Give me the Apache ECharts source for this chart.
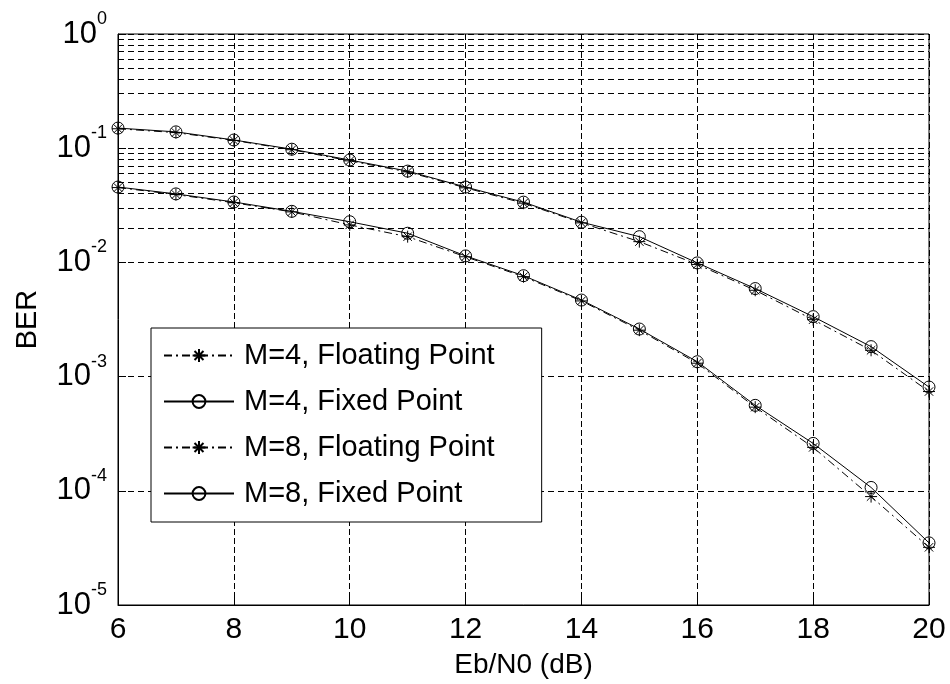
<!DOCTYPE html>
<html>
<head>
<meta charset="utf-8">
<title>BER vs Eb/N0</title>
<script src="https://cdn.jsdelivr.net/npm/echarts@6/dist/echarts.min.js"></script>
<style>
  html, body { margin: 0; padding: 0; background: #fff; }
  #main { width: 950px; height: 684px; }
</style>
</head>
<body>
<div id="main"></div>
<script>
// Eb/N0 (dB)
var ebn0 = [6, 7, 8, 9, 10, 11, 12, 13, 14, 15, 16, 17, 18, 19, 20];
// 下面的曲线
var m4Float = [0.0452, 0.0393, 0.0333, 0.0277, 0.0213, 0.0168, 0.0112, 0.0075, 0.0046, 0.00255, 0.00131, 0.00054, 0.00024, 0.000089, 0.000032];
var m4Fixed = [0.0457, 0.0398, 0.0338, 0.0280, 0.0227, 0.0180, 0.0114, 0.00765, 0.00468, 0.00261, 0.00135, 0.00056, 0.00026, 0.000107, 0.000035];
// 上面的曲线
var m8Float = [0.148, 0.137, 0.117, 0.097, 0.0775, 0.062, 0.045, 0.033, 0.0222, 0.0152, 0.0096, 0.0057, 0.00315, 0.0017, 0.00074];
var m8Fixed = [0.150, 0.139, 0.118, 0.098, 0.0788, 0.063, 0.0457, 0.0337, 0.0225, 0.0168, 0.0099, 0.0059, 0.00335, 0.00183, 0.00081];
// 对数网格的次刻度
var decades = [1e-5, 1e-4, 1e-3, 1e-2, 1e-1];
var minorMult = [2, 3, 4, 5, 6, 7, 8, 9];

var legendNames = ['M=4, Floating Point', 'M=4, Fixed Point', 'M=8, Floating Point', 'M=8, Fixed Point'];
var font = 'Liberation Sans, Arial, sans-serif';
var star = 'path://M0,-10L0,10M-10,0L10,0M-7,-7L7,7M-7,7L7,-7';

function pairs(ys) {
    return ebn0.map(function (x, i) { return [x, ys[i]]; });
}

var minorLines = [];
decades.forEach(function (d) {
    minorMult.forEach(function (m) {
        minorLines.push({ yAxis: m * d });
    });
});

function curve(name, ys, isFixed) {
    return {
        name: name,
        type: 'line',
        z: 3,
        data: pairs(ys),
        symbol: isFixed ? 'circle' : star,
        symbolSize: 12,
        showAllSymbol: true,
        lineStyle: {
            color: '#000',
            width: 1,
            type: isFixed ? 'solid' : [8, 4, 2, 4]
        },
        itemStyle: {
            color: 'transparent',
            borderColor: '#000',
            borderWidth: 1
        }
    };
}

var chart = echarts.init(document.getElementById('main'));
var option = {
    animation: false,
    backgroundColor: '#fff',
    grid: {
        left: 118, right: 21, top: 34, bottom: 79,
        show: true,
        borderColor: '#000',
        borderWidth: 1
    },
    legend: {
        data: legendNames,
        orient: 'vertical',
        left: 151,
        top: 328,
        itemWidth: 70,
        itemHeight: 16,
        itemGap: 17,
        padding: [13, 47, 14, 12],
        backgroundColor: '#fff',
        borderColor: '#000',
        borderWidth: 1,
        textStyle: {
            fontFamily: font,
            fontSize: 29,
            color: '#000',
            padding: [0, 0, 0, 5]
        }
    },
    xAxis: {
        type: 'value',
        min: 6,
        max: 20,
        interval: 2,
        name: 'Eb/N0 (dB)',
        nameLocation: 'middle',
        nameGap: 46,
        nameTextStyle: { fontFamily: font, fontSize: 28, color: '#000' },
        axisLine: { lineStyle: { color: '#000', width: 1 } },
        axisTick: { inside: true, length: 8, lineStyle: { color: '#000' } },
        axisLabel: { fontFamily: font, fontSize: 30, color: '#000', margin: 10 },
        splitLine: { show: true, lineStyle: { color: '#000', width: 1, type: [6, 3] } }
    },
    yAxis: {
        type: 'log',
        logBase: 10,
        min: 1e-5,
        max: 1,
        name: 'BER',
        nameLocation: 'middle',
        nameGap: 76,
        nameTextStyle: { fontFamily: font, fontSize: 29, color: '#000' },
        axisLine: { show: true, lineStyle: { color: '#000', width: 1 } },
        axisTick: { inside: true, length: 8, lineStyle: { color: '#000' } },
        axisLabel: {
            margin: 11,
            interval: 0,
            formatter: function (v) {
                var e = Math.round(Math.log10(v));
                return '{b|10}{s|' + e + '}';
            },
            rich: {
                b: { fontFamily: font, fontSize: 31, color: '#000', lineHeight: 60, verticalAlign: 'middle' },
                s: { fontFamily: font, fontSize: 18, color: '#000', lineHeight: 18, verticalAlign: 'top', padding: [6, 0, 0, 0] }
            }
        },
        splitLine: { show: true, lineStyle: { color: '#000', width: 1, type: [6, 4] } }
    },
    series: [
        {
            name: 'grid',
            type: 'line',
            z: 1,
            data: [],
            silent: true,
            markLine: {
                silent: true,
                symbol: ['none', 'none'],
                label: { show: false },
                lineStyle: { color: '#000', width: 1, type: [6, 4] },
                data: minorLines
            }
        },
        curve(legendNames[0], m4Float, false),
        curve(legendNames[1], m4Fixed, true),
        curve(legendNames[2], m8Float, false),
        curve(legendNames[3], m8Fixed, true)
    ]
};
chart.setOption(option);
</script>
</body>
</html>
